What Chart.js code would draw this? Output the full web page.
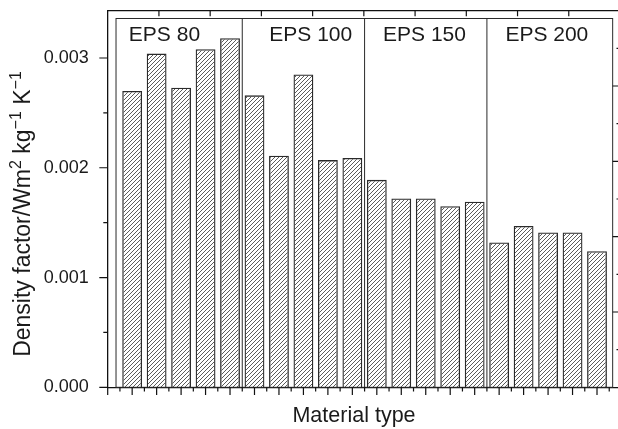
<!DOCTYPE html>
<html>
<head>
<meta charset="utf-8">
<script src="https://cdn.jsdelivr.net/npm/chart.js@4.4.1/dist/chart.umd.min.js"></script>
<style>
  html, body { margin: 0; padding: 0; background: #fff; }
  #wrap { width: 618px; height: 429px; overflow: hidden; }
</style>
</head>
<body>
<div id="wrap"><canvas id="chart" width="626" height="429"></canvas></div>
<script>
// density factor per sample, five samples for each EPS grade
const groups = ['EPS 80', 'EPS 100', 'EPS 150', 'EPS 200'];
const eps80  = [0.00270, 0.00304, 0.00273, 0.00308, 0.00318];
const eps100 = [0.00266, 0.00211, 0.00285, 0.00207, 0.00209];
const eps150 = [0.00189, 0.00172, 0.00172, 0.00165, 0.00169];
const eps200 = [0.00132, 0.00147, 0.00141, 0.00141, 0.00124];
const yTicks = [0, 0.001, 0.002, 0.003];
const xTitle = 'Material type';
// y title pieces: [text, superscript?]
const yTitle = [['Density factor/Wm', 0], ['2', 1], [' kg', 0], ['\u22121', 1], [' K', 0], ['\u22121', 1]];

const perGroup = eps80.length;
const values = [].concat(eps80, eps100, eps150, eps200);
const samples = values.map((v, i) => ({x: i + 1, y: v}));

const FONT = '"Liberation Sans", Arial, Helvetica, sans-serif';
const INK = '#1a1a1a';

const canvas = document.getElementById('chart');
const ctx0 = canvas.getContext('2d');

// diagonal hatch fill for the bars
function hatch() {
  const c = document.createElement('canvas');
  c.width = 4; c.height = 4;
  const g = c.getContext('2d');
  g.strokeStyle = '#4a4a4a';
  g.lineWidth = 0.9;
  g.beginPath();
  g.moveTo(0, 4); g.lineTo(4, 0);
  g.moveTo(-1, 1); g.lineTo(1, -1);
  g.moveTo(3, 5); g.lineTo(5, 3);
  g.stroke();
  return ctx0.createPattern(c, 'repeat');
}

function fixSize(w, h) {
  return s => {
    if (w != null) s.width = w;
    if (h != null) s.height = h;
    s.paddingTop = 0; s.paddingBottom = 0; s.paddingLeft = 0; s.paddingRight = 0;
  };
}

function drawRich(ctx, parts, cx, base) {
  const big = '23px ' + FONT, small = '16px ' + FONT;
  let total = 0;
  parts.forEach(([t, sup]) => { ctx.font = sup ? small : big; total += ctx.measureText(t).width; });
  let px = cx - total / 2;
  ctx.textAlign = 'left';
  parts.forEach(([t, sup]) => {
    ctx.font = sup ? small : big;
    ctx.fillText(t, px, sup ? base - 9 : base);
    px += ctx.measureText(t).width;
  });
}

const decor = {
  id: 'decor',
  beforeDatasetsDraw(chart) {
    const {ctx, scales: {x, y}} = chart;
    ctx.save();
    ctx.strokeStyle = '#2a2a2a';
    ctx.lineWidth = 1;
    const l = x.getPixelForValue(0.34), r = x.getPixelForValue(20.64);
    const t = y.getPixelForValue(0.00336), b = y.getPixelForValue(0);
    ctx.strokeRect(l, t, r - l, b - t);
    ctx.beginPath();
    for (let g = 1; g < groups.length; g++) {
      const px = x.getPixelForValue(g * perGroup + 0.5);
      ctx.moveTo(px, t); ctx.lineTo(px, b);
    }
    ctx.stroke();
    // group names
    const shift = [-0.68, 0.3, -0.05, -0.05];
    ctx.fillStyle = INK;
    ctx.font = '21px ' + FONT;
    ctx.textAlign = 'center';
    ctx.textBaseline = 'alphabetic';
    groups.forEach((name, g) => {
      const cx = x.getPixelForValue(g * perGroup + (perGroup + 1) / 2 + shift[g]);
      ctx.fillText(name, cx, t + 23);
    });
    ctx.restore();
  },
  afterDraw(chart) {
    const {ctx, scales: {x, y, xTop, yRight}} = chart;
    ctx.save();
    ctx.strokeStyle = '#111';
    ctx.lineWidth = 1.2;
    ctx.beginPath();
    // left axis, outward
    for (let k = 0; k <= 6; k++) {
      const py = y.getPixelForValue(k * 0.0005), len = k % 2 ? 4.4 : 8.4;
      ctx.moveTo(x.left, py); ctx.lineTo(x.left - len, py);
    }
    // bottom axis, outward
    for (let k = 0; k <= 41; k++) {
      const px = x.getPixelForValue(k * 0.5), len = k % 2 ? 4.3 : 7.7;
      ctx.moveTo(px, y.bottom); ctx.lineTo(px, y.bottom + len);
    }
    // top axis, inward
    for (let k = 1; k <= 9; k++) {
      const px = xTop.getPixelForValue(k);
      ctx.moveTo(px, y.top); ctx.lineTo(px, y.top + 5.5);
    }
    // right axis, inward
    for (let k = 1; k <= 9; k++) {
      const py = yRight.getPixelForValue(k), len = k % 2 ? 3.5 : 7.3;
      ctx.moveTo(x.right, py); ctx.lineTo(x.right - len, py);
    }
    ctx.stroke();

    ctx.fillStyle = INK;
    ctx.font = '21.5px ' + FONT;
    ctx.textAlign = 'center';
    ctx.textBaseline = 'alphabetic';
    ctx.fillText(xTitle, 354, 421.7);
    ctx.translate(29.5, 214);
    ctx.rotate(-Math.PI / 2);
    drawRich(ctx, yTitle, 0, 0);
    ctx.restore();
  }
};

const hidden = {
  ticks: {display: false},
  grid: {display: false, drawTicks: false},
  border: {display: true, color: '#111', width: 1.3},
  offset: false
};

new Chart(canvas, {
  type: 'bar',
  data: {
    datasets: [{
      data: samples,
      backgroundColor: hatch(),
      borderColor: '#2a2a2a',
      borderWidth: 1.3,
      barPercentage: 0.81,
      categoryPercentage: 1
    }]
  },
  options: {
    responsive: false,
    animation: false,
    devicePixelRatio: 1,
    layout: {padding: 0},
    plugins: {legend: {display: false}, tooltip: {enabled: false}},
    scales: {
      x: Object.assign({
        type: 'linear', position: 'bottom', min: 0, max: 20.94,
        afterFit: fixSize(null, 41.7)
      }, hidden),
      xTop: Object.assign({
        type: 'linear', position: 'top', min: 0, max: 10,
        afterFit: fixSize(null, 10.7)
      }, hidden),
      y: {
        type: 'linear', position: 'left', min: 0, max: 0.003431,
        afterBuildTicks: s => { s.ticks = yTicks.map(v => ({value: v})); },
        ticks: {
          padding: 19,
          color: INK,
          font: {family: FONT, size: 18},
          callback: v => v.toFixed(3)
        },
        grid: {display: false, drawTicks: false},
        border: {display: true, color: '#111', width: 1.3},
        afterFit: fixSize(107.7, null)
      },
      yRight: Object.assign({
        type: 'linear', position: 'right', min: 0, max: 10,
        afterFit: fixSize(6, null)
      }, hidden)
    }
  },
  plugins: [decor]
});
</script>
</body>
</html>
